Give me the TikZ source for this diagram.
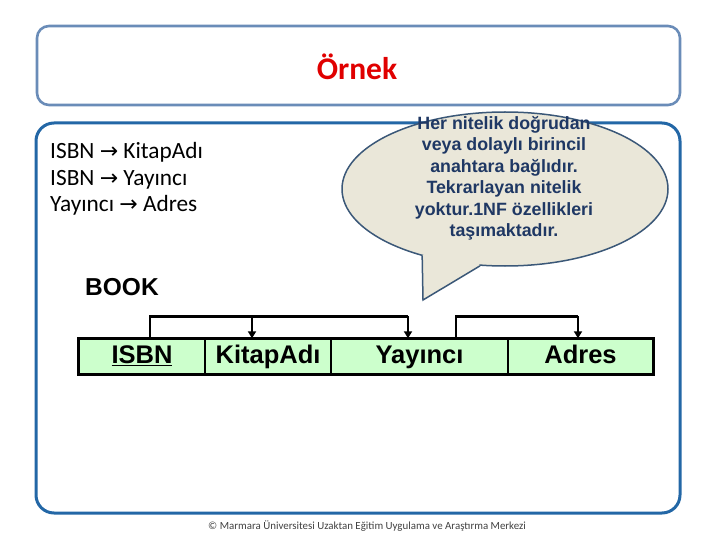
\documentclass[tikz,border=0pt]{standalone}
\usepackage{fontspec}
\setmainfont{Carlito}
\newfontfamily\arialbd{Liberation Sans}
\newfontfamily\djv{DejaVu Sans}
\usetikzlibrary{shapes.geometric,arrows.meta}
\definecolor{titleframe}{HTML}{6A8CB8}
\definecolor{mainframe}{HTML}{2367A6}
\definecolor{titlered}{HTML}{E00000}
\definecolor{bubfill}{HTML}{EAE7D9}
\definecolor{bubline}{HTML}{3B5878}
\definecolor{bubtext}{HTML}{1F3864}
\definecolor{cellgreen}{HTML}{CCFFCC}
\definecolor{foot}{HTML}{404040}
\newcommand{\rarr}{{\djv\fontsize{22}{26}\selectfont →}}
\tikzset{
  framebox/.style={line width=2.6pt, rounded corners=12pt},
  cellbox/.style={draw=black, line width=1.4pt, fill=cellgreen, minimum height=35pt, inner sep=0pt,
    text height=18.5pt, text depth=5pt,
    font=\arialbd\bfseries\fontsize{25.5}{29}\selectfont},
  link/.style={line width=2.4pt, black},
  arr/.style={line width=2.4pt, black, -{Triangle[length=7pt,width=8pt]}},
  lefttext/.style={anchor=north west, align=left, inner sep=0pt, font=\fontsize{23.3}{26.5}\selectfont},
}
\begin{document}
\begin{tikzpicture}[x=1pt,y=-1pt]
\useasboundingbox (0,0) rectangle (720,540);
% title box
\draw[framebox, draw=titleframe] (37,26) rectangle (680,105);
\node[text=titlered, font=\bfseries\fontsize{31.5}{36}\selectfont] (title) at (357,67) {Örnek};
% content box
\draw[framebox, draw=mainframe, line width=3pt, rounded corners=18pt] (36,123) rectangle (680,513);
% left text
\node[lefttext] (deps) at (50,142.5) {ISBN \rarr{} KitapAdı\\ISBN \rarr{} Yayıncı\\Yayıncı \rarr{} Adres};
% callout
\node[ellipse, draw=bubline, line width=1.5pt, fill=bubfill, minimum width=326pt, minimum height=154pt, inner sep=0pt] (bub) at (505,189) {};
\coordinate (tip) at (423,300);
\coordinate (inner) at (455,225);
\fill[bubfill] (bub.219.7) -- (tip) -- (bub.252.2) -- (inner) -- cycle;
\draw[bubline, line width=1.5pt, line join=miter] (bub.219.7) -- (tip) -- (bub.252.2);
\node[text=bubtext, align=center, font=\arialbd\bfseries\fontsize{17.8}{21.5}\selectfont] (bubtxt) at (504,178.5)
  {Her nitelik doğrudan\\veya dolaylı birincil\\anahtara bağlıdır.\\Tekrarlayan nitelik\\yoktur.1NF özellikleri\\taşımaktadır.};
% BOOK
\node[anchor=west, inner sep=0pt, font=\arialbd\bfseries\fontsize{24.5}{28}\selectfont] (book) at (85,287) {BOOK};
% table
\node[cellbox, minimum width=126pt] (isbn) at (142,356.5) {\underline{ISBN}};
\node[cellbox, minimum width=126pt] (kitap) at (268,356.5) {KitapAdı};
\node[cellbox, minimum width=177pt] (yay) at (419.5,356.5) {Yayıncı};
\node[cellbox, minimum width=145pt] (adres) at (580.5,356.5) {Adres};
\draw[black, line width=2.8pt] (isbn.north west) rectangle (adres.south east);
% dependency arrows
\draw[link] ([xshift=8pt]isbn.north) -- ([xshift=8pt,yshift=22pt]isbn.north) coordinate (top1)
   -- ([xshift=-11.5pt,yshift=22pt]yay.north) coordinate (top2);
\draw[arr] (top2) -- ([xshift=-11.5pt]yay.north);
\draw[arr] ([xshift=-16pt]kitap.north |- top1) -- ([xshift=-16pt]kitap.north);
\draw[link] ([xshift=36.5pt]yay.north) -- ([xshift=36.5pt,yshift=22pt]yay.north)
   -- ([xshift=-2.5pt,yshift=22pt]adres.north) coordinate (top3);
\draw[arr] (top3) -- ([xshift=-2.5pt]adres.north);
% footer
\node[anchor=west, inner sep=0pt, text=foot, font=\fontsize{10.9}{12}\selectfont] (footer) at (208,526)
  {© Marmara Üniversitesi Uzaktan Eğitim Uygulama ve Araştırma Merkezi};
\end{tikzpicture}
\end{document}
